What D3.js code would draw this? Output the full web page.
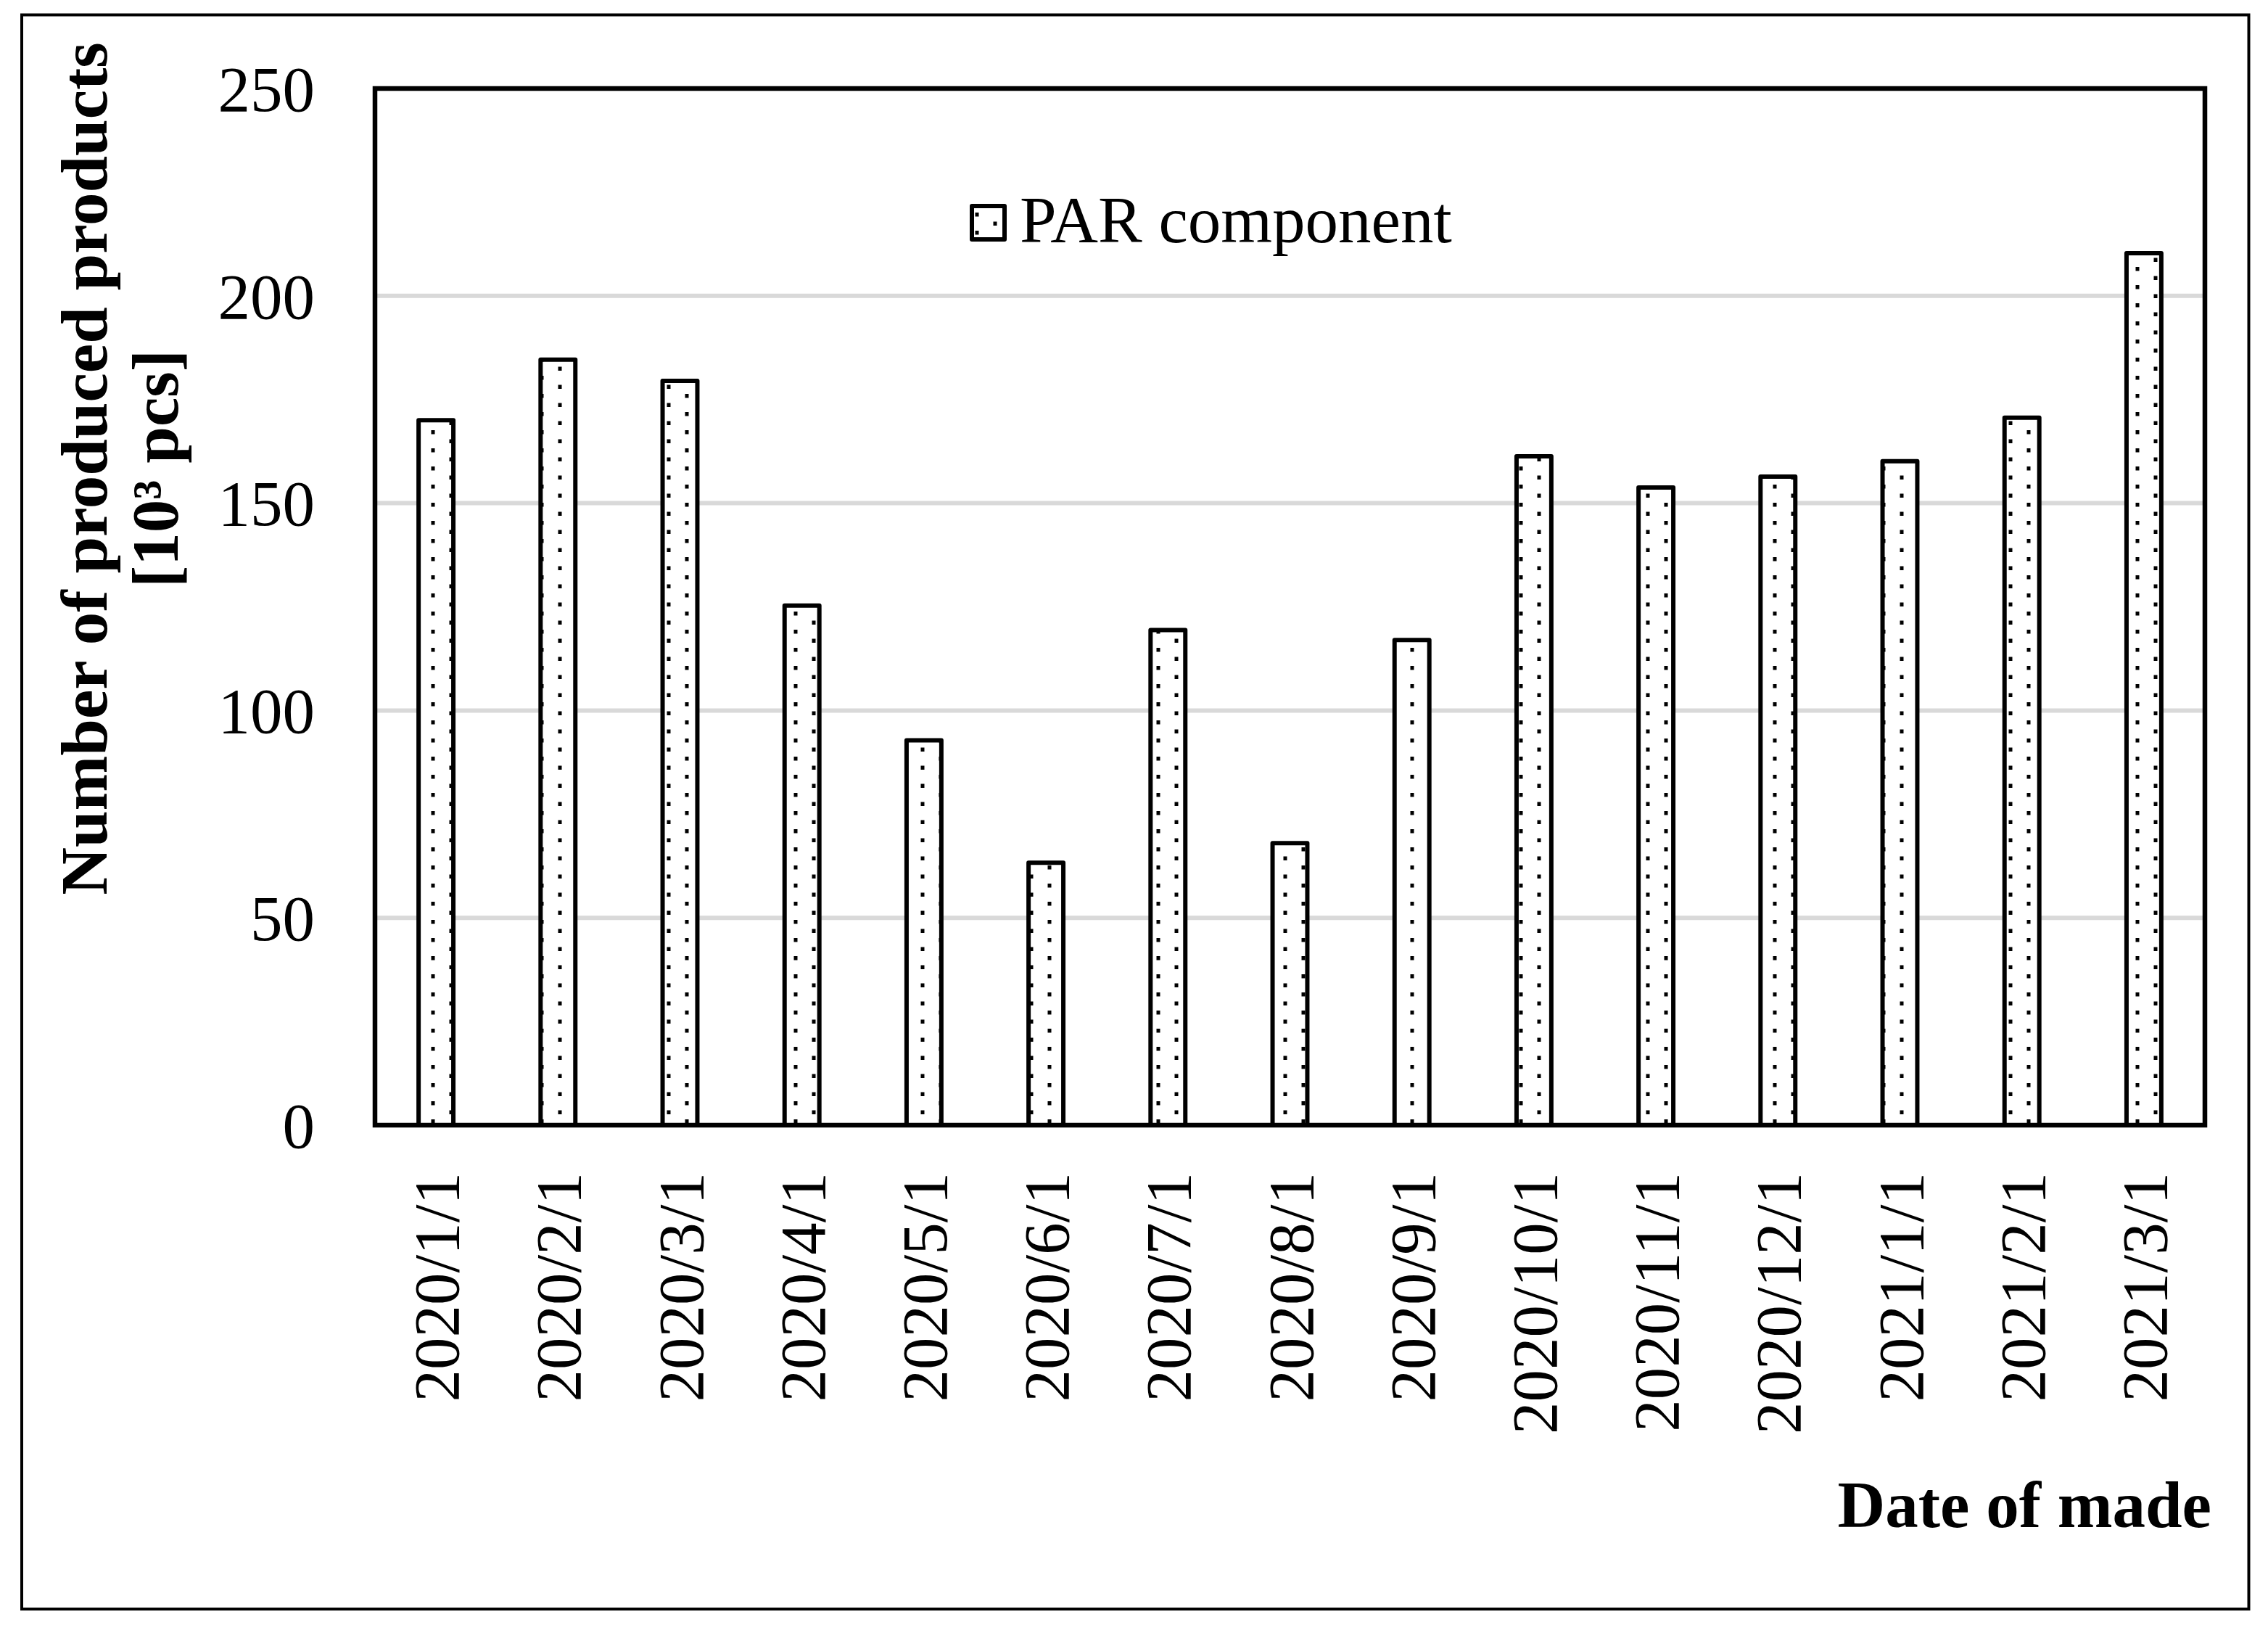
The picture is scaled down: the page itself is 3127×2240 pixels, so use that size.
<!DOCTYPE html>
<html>
<head>
<meta charset="utf-8">
<script src="https://cdn.jsdelivr.net/npm/d3@7"></script>
<style>
  html, body { margin: 0; padding: 0; background: #ffffff; }
  svg { display: block; }
  text { font-family: "Liberation Serif", "Times New Roman", serif; fill: #000; }
</style>
</head>
<body>
<svg id="chart" width="3127" height="2240"></svg>
<script>
const categories = ["2020/1/1","2020/2/1","2020/3/1","2020/4/1","2020/5/1","2020/6/1","2020/7/1","2020/8/1","2020/9/1","2020/10/1","2020/11/1","2020/12/1","2021/1/1","2021/2/1","2021/3/1"];
const values = [170, 184.6, 179.5, 125.3, 92.8, 63.3, 119.4, 68, 117, 161.3, 153.8, 156.4, 160.1, 170.6, 210.3];
const yTicks = [0, 50, 100, 150, 200, 250];
const seriesName = "PAR component";
const yTitleLine1 = "Number of produced products";
const yTitleLine2 = "[10³ pcs]";
const xTitle = "Date of made";

const W = 3127, H = 2240;
const plot = { left: 517, right: 3040, top: 122, bottom: 1551 };

const svg = d3.select("#chart");

// dotted pattern
const defs = svg.append("defs");
const pat = defs.append("pattern")
  .attr("id", "dots")
  .attr("patternUnits", "userSpaceOnUse")
  .attr("width", 50).attr("height", 25);
pat.append("rect").attr("width", 50).attr("height", 25).attr("fill", "#fff");
pat.append("rect").attr("x", 44.5).attr("y", 18).attr("width", 5).attr("height", 5.5).attr("fill", "#000");
pat.append("rect").attr("x", 19.5).attr("y", 5.5).attr("width", 5).attr("height", 5.5).attr("fill", "#000");

// outer frame
svg.append("rect")
  .attr("x", 30).attr("y", 20.5)
  .attr("width", 3070.5).attr("height", 2197.5)
  .attr("fill", "#fff").attr("stroke", "#000").attr("stroke-width", 4);

const x = d3.scaleBand()
  .domain(categories)
  .range([plot.left, plot.right])
  .paddingInner(0.715)
  .paddingOuter(0.3575);

const y = d3.scaleLinear()
  .domain([0, 250])
  .range([plot.bottom, plot.top]);

// gridlines
svg.append("g")
  .selectAll("line")
  .data(yTicks.filter(t => t > 0 && t < 250))
  .join("line")
  .attr("x1", plot.left).attr("x2", plot.right)
  .attr("y1", d => y(d)).attr("y2", d => y(d))
  .attr("stroke", "#d9d9d9").attr("stroke-width", 6);

// bars
svg.append("g")
  .selectAll("rect")
  .data(values)
  .join("rect")
  .attr("x", (d, i) => x(categories[i]))
  .attr("width", x.bandwidth())
  .attr("y", d => y(d))
  .attr("height", d => y(0) - y(d))
  .attr("fill", "url(#dots)")
  .attr("stroke", "#000")
  .attr("stroke-width", 6)
  .attr("stroke-linejoin", "round");

// plot border
svg.append("rect")
  .attr("x", plot.left).attr("y", plot.top)
  .attr("width", plot.right - plot.left).attr("height", plot.bottom - plot.top)
  .attr("fill", "none").attr("stroke", "#000").attr("stroke-width", 6.5);

// y axis
const yAxis = svg.append("g")
  .attr("transform", `translate(${plot.left},0)`)
  .call(d3.axisLeft(y).tickValues(yTicks).tickSize(0).tickPadding(83));
yAxis.select(".domain").remove();
yAxis.selectAll("text")
  .attr("font-family", "'Liberation Serif', 'Times New Roman', serif")
  .attr("font-size", 89)
  .attr("dy", "0.34em")
  .attr("fill", "#000");

// x axis
const xAxis = svg.append("g")
  .attr("transform", `translate(0,${plot.bottom})`)
  .call(d3.axisBottom(x).tickSize(0));
xAxis.select(".domain").remove();
xAxis.selectAll("text")
  .attr("font-family", "'Liberation Serif', 'Times New Roman', serif")
  .attr("font-size", 89)
  .attr("transform", "rotate(-90)")
  .attr("text-anchor", "end")
  .attr("x", -65)
  .attr("y", 0)
  .attr("dy", "0.35em")
  .attr("fill", "#000");

// y title
svg.append("text")
  .attr("transform", "translate(147,646) rotate(-90)")
  .attr("text-anchor", "middle")
  .attr("font-size", 91)
  .attr("font-weight", "bold")
  .text(yTitleLine1);
svg.append("text")
  .attr("transform", "translate(245,646) rotate(-90)")
  .attr("text-anchor", "middle")
  .attr("font-size", 91)
  .attr("font-weight", "bold")
  .text(yTitleLine2);

// x title
svg.append("text")
  .attr("x", 3049).attr("y", 2105)
  .attr("text-anchor", "end")
  .attr("font-size", 91)
  .attr("font-weight", "bold")
  .text(xTitle);

// legend
const legend = svg.append("g");
legend.append("rect")
  .attr("x", 1340).attr("y", 284)
  .attr("width", 45).attr("height", 46)
  .attr("fill", "url(#dots)")
  .attr("stroke", "#000").attr("stroke-width", 6)
  .attr("stroke-linejoin", "round");
legend.append("text")
  .attr("x", 1406).attr("y", 334)
  .attr("font-size", 91)
  .text(seriesName);
</script>
</body>
</html>
